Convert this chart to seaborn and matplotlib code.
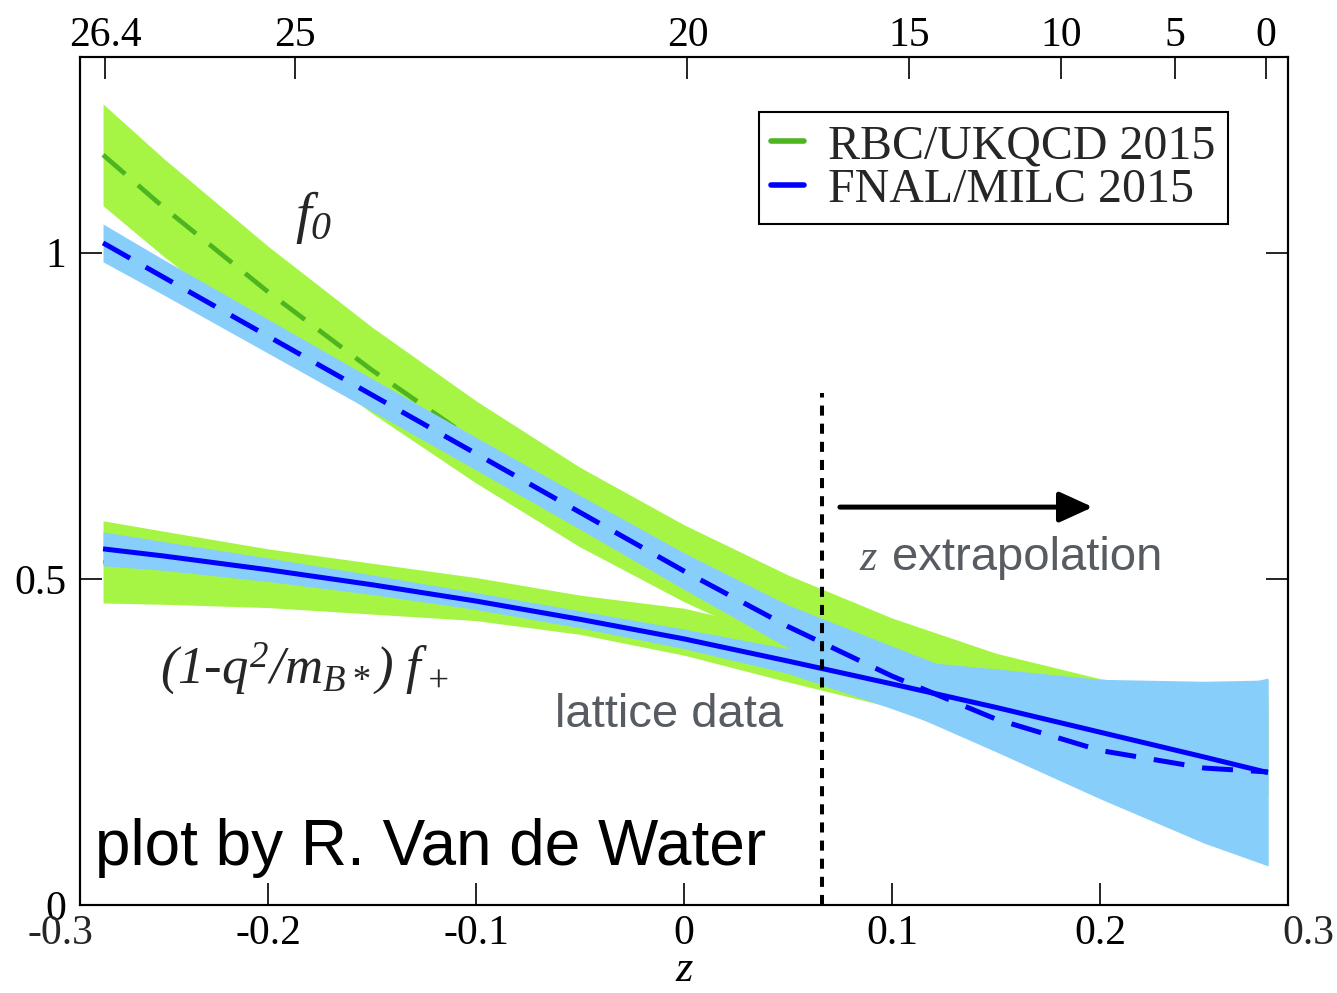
import numpy as np
import pandas as pd
import matplotlib
matplotlib.use("Agg")
import matplotlib.pyplot as plt
import seaborn as sns
from matplotlib.lines import Line2D

# ---- data -----------------------------------------------------------------
z_grid = [-0.2793, -0.25, -0.2, -0.15, -0.1, -0.05, 0.0, 0.05, 0.1, 0.15, 0.2, 0.25, 0.2808]

# FNAL/MILC 2015
fnal_f0 = [1.015, 0.962, 0.872, 0.782, 0.692, 0.602, 0.512, 0.427, 0.351, 0.285, 0.237, 0.210, 0.204]
fnal_f0_err = [0.029, 0.027, 0.026, 0.025, 0.025, 0.026, 0.028, 0.033, 0.046, 0.050, 0.074, 0.115, 0.144]
fnal_fp = [0.546, 0.535, 0.514, 0.491, 0.466, 0.438, 0.408, 0.374, 0.339, 0.303, 0.265, 0.227, 0.203]
fnal_fp_err = [0.026, 0.022, 0.018, 0.015, 0.013, 0.013, 0.015, 0.019, 0.038, 0.059, 0.081, 0.116, 0.142]

# RBC/UKQCD 2015
rbc_f0 = [1.150, 1.069, 0.940, 0.820, 0.710, 0.610, 0.524, 0.449, 0.385, 0.333, 0.295, 0.275, 0.269]
rbc_f0_err = [0.078, 0.075, 0.070, 0.066, 0.063, 0.061, 0.059, 0.057, 0.055, 0.053, 0.052, 0.052, 0.052]
rbc_fp = [0.526, 0.517, 0.501, 0.485, 0.469, 0.445, 0.419, 0.380, 0.345, 0.310, 0.280, 0.250, 0.235]
rbc_fp_err = [0.063, 0.056, 0.045, 0.039, 0.033, 0.030, 0.036, 0.038, 0.042, 0.045, 0.050, 0.060, 0.065]

q2_ticks = [26.4, 25, 20, 15, 10, 5, 0]
z_ticks = [-0.3, -0.2, -0.1, 0, 0.1, 0.2, 0.3]
y_ticks = [0, 0.5, 1]
z_lattice_edge = 0.0663
series_labels = ["RBC/UKQCD 2015", "FNAL/MILC 2015"]

# ---- kinematics for the q^2 axis ------------------------------------------
M_B, M_PI = 5.27958, 0.13957
T_PLUS = (M_B + M_PI) ** 2
T_MINUS = (M_B - M_PI) ** 2
T_0 = T_PLUS * (1 - np.sqrt(1 - T_MINUS / T_PLUS))


def z_of_q2(q2):
    a = np.sqrt(T_PLUS - q2)
    b = np.sqrt(T_PLUS - T_0)
    return (a - b) / (a + b)


# ---- style ------------------------------------------------------------------
sns.set_theme(style="ticks")
plt.rcParams["font.family"] = ["Liberation Serif", "DejaVu Serif"]
plt.rcParams["axes.unicode_minus"] = False
plt.rcParams["mathtext.fontset"] = "custom"
plt.rcParams["mathtext.it"] = "Liberation Serif:italic"
plt.rcParams["mathtext.rm"] = "Liberation Serif:italic"

GREEN_BAND = "#a6f545"
GREEN_LINE = "#4db51f"
BLUE_BAND = "#87cefa"
BLUE_LINE = "#0000ff"
GRAY_TEXT = "#575c63"
SANS = ["Liberation Sans", "DejaVu Sans"]

fig = plt.figure(figsize=(13.37, 9.93), dpi=100)
ax = fig.add_axes([0.0598, 0.0886, 0.9035, 0.854])

df = pd.DataFrame({
    "z": z_grid,
    "fnal_f0": fnal_f0, "fnal_f0_err": fnal_f0_err,
    "fnal_fp": fnal_fp, "fnal_fp_err": fnal_fp_err,
    "rbc_f0": rbc_f0, "rbc_f0_err": rbc_f0_err,
    "rbc_fp": rbc_fp, "rbc_fp_err": rbc_fp_err,
})


def band(col, color, z):
    ax.fill_between(df["z"], df[col] - df[col + "_err"], df[col] + df[col + "_err"],
                    color=color, lw=0, zorder=z)


dash = (0, (6.2, 3.6))
caps = dict(solid_capstyle="butt", dash_capstyle="butt")

# RBC/UKQCD bands and central curves
band("rbc_f0", GREEN_BAND, 1)
band("rbc_fp", GREEN_BAND, 1)
sns.lineplot(data=df, x="z", y="rbc_f0", ax=ax, color=GREEN_LINE, lw=3.4,
             linestyle=dash, zorder=2, **caps)
sns.lineplot(data=df, x="z", y="rbc_fp", ax=ax, color=GREEN_LINE, lw=2.5,
             zorder=2, **caps)

# FNAL/MILC bands and central curves
band("fnal_f0", BLUE_BAND, 3)
band("fnal_fp", BLUE_BAND, 3)
sns.lineplot(data=df, x="z", y="fnal_f0", ax=ax, color=BLUE_LINE, lw=3.6,
             linestyle=dash, zorder=4, **caps)
sns.lineplot(data=df, x="z", y="fnal_fp", ax=ax, color=BLUE_LINE, lw=3.6,
             zorder=4, **caps)

# end of the lattice data
ax.plot([z_lattice_edge, z_lattice_edge], [0, 0.785], color="black", lw=2.9,
        linestyle=(0, (2.5, 2.0)), zorder=5)
ax.annotate("", xy=(0.1966, 0.610), xytext=(0.0750, 0.610),
            arrowprops=dict(arrowstyle="-|>,head_length=0.68,head_width=0.31",
                            lw=3.6, color="black", mutation_scale=30,
                            shrinkA=0, shrinkB=0), zorder=6)

# ---- annotations -------------------------------------------------------------
ax.text(-0.187, 1.032, r"$f_0$", fontsize=41, ha="left", va="baseline")
ax.text(-0.252, 0.340, r"$(1$-$q^2/m_{B*})\ f_+$", fontsize=38,
        fontstyle="italic", ha="left", va="baseline")
ax.text(0.0846, 0.514, "z", fontsize=32, fontstyle="italic", color=GRAY_TEXT,
        ha="left", va="baseline")
ax.text(0.1000, 0.514, "extrapolation", fontsize=34, family=SANS,
        color=GRAY_TEXT, ha="left", va="baseline")
ax.text(-0.062, 0.273, "lattice data", fontsize=34, family=SANS,
        color=GRAY_TEXT, ha="left", va="baseline")
ax.text(-0.283, 0.061, "plot by R. Van de Water", fontsize=46, family=SANS,
        color="black", ha="left", va="baseline")

# ---- axes ---------------------------------------------------------------------
ax.set_xlim(-0.2904, 0.2904)
ax.set_ylim(0, 1.3)
inner = [t for t in z_ticks if -0.2904 < t < 0.2904]
ax.set_xticks(inner)
ax.set_xticklabels([f"{t:g}" for t in inner])
for t in z_ticks:
    if t not in inner:
        ax.annotate(f"{t:g}", xy=(t, 0), xycoords="data", xytext=(0, -7),
                    textcoords="offset points", ha="center", va="top",
                    fontsize=30, annotation_clip=False)
ax.set_yticks(y_ticks)
ax.set_yticklabels([f"{t:g}" for t in y_ticks])
ax.tick_params(axis="both", direction="in", length=16, width=1.2, labelsize=30,
               top=False, right=True, colors="black")
ax.tick_params(axis="x", pad=7)
ax.tick_params(axis="y", pad=10)
ax.set_xlabel("z", fontsize=32, fontstyle="italic", labelpad=-2, color="black")
ax.set_ylabel("")
for s in ax.spines.values():
    s.set_linewidth(1.5)
    s.set_color("black")

ax_top = ax.twiny()
ax_top.set_xlim(ax.get_xlim())
ax_top.set_xticks([z_of_q2(q) for q in q2_ticks])
ax_top.set_xticklabels([f"{q:g}" for q in q2_ticks])
ax_top.tick_params(axis="x", direction="in", length=16, width=1.2, labelsize=30,
                   pad=1.5, colors="black")
for s in ax_top.spines.values():
    s.set_linewidth(1.5)
    s.set_color("black")

handles = [Line2D([], [], color=GREEN_LINE, lw=4),
           Line2D([], [], color=BLUE_LINE, lw=4)]
leg = ax.legend(handles, series_labels, loc="upper right",
                bbox_to_anchor=(0.950, 0.935), borderaxespad=0, fontsize=34.5,
                frameon=True, fancybox=False, framealpha=1, edgecolor="black",
                handlelength=0.7, handletextpad=0.5, labelspacing=0.0,
                borderpad=0.25)
leg.get_frame().set_linewidth(1.5)

fig.savefig("out.png", dpi=100)
